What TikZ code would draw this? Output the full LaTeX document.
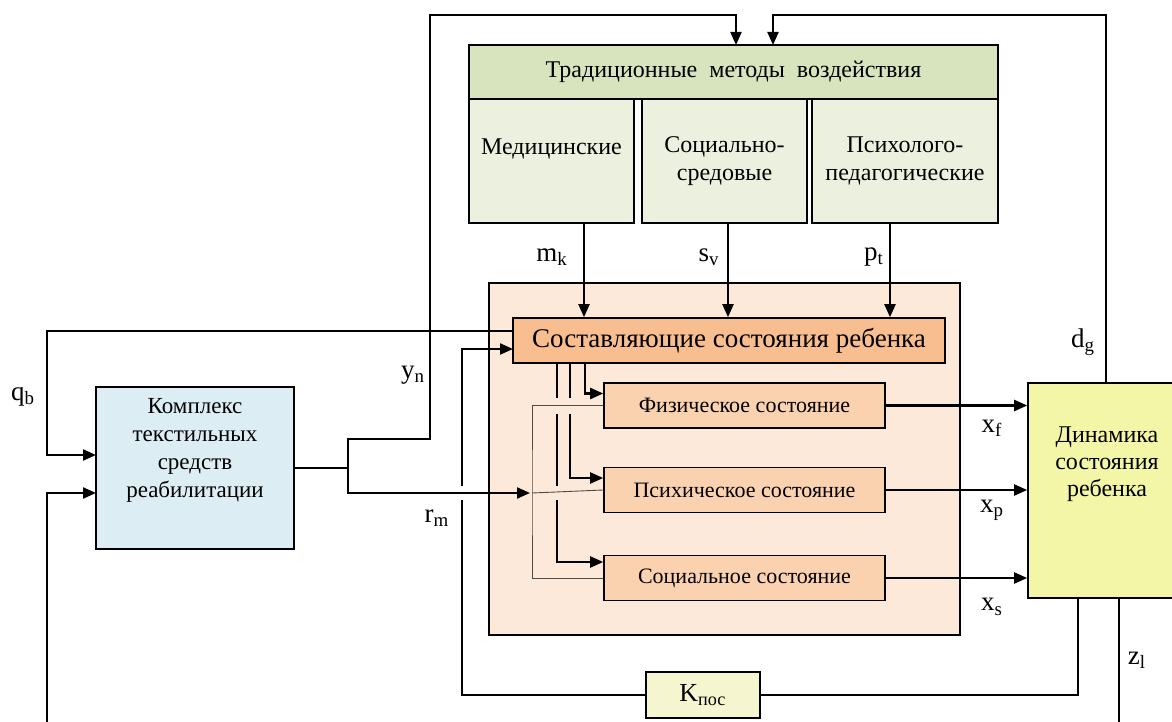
\documentclass[tikz,border=0pt]{standalone}
\usepackage{fontspec}
\setmainfont{Liberation Serif}
\usetikzlibrary{arrows.meta, calc}

\definecolor{hdrgreen}{RGB}{215,228,189}
\definecolor{subgreen}{RGB}{235,241,222}
\definecolor{peach}{RGB}{253,233,217}
\definecolor{compor}{RGB}{248,190,143}
\definecolor{subor}{RGB}{251,210,175}
\definecolor{textblue}{RGB}{220,238,243}
\definecolor{dynyel}{RGB}{242,246,166}
\definecolor{kyel}{RGB}{245,245,208}

\tikzset{
    box/.style={draw, line width=0.8pt, inner sep=1pt, align=center},
    hdr/.style={box, fill=hdrgreen, minimum width=264.5pt, minimum height=27pt,
        font=\fontsize{12}{14}\selectfont},
    method/.style={box, fill=subgreen, minimum height=62pt,
        font=\fontsize{12}{14}\selectfont},
    statebg/.style={box, fill=peach, minimum width=235.5pt, minimum height=176pt},
    part/.style={box, fill=subor, minimum width=140.5pt, minimum height=22.5pt,
        font=\fontsize{11}{13}\selectfont},
    sig/.style={font=\fontsize{13.5}{15}\selectfont, inner sep=0pt},
    line/.style={line width=0.7pt},
    thinline/.style={line width=0.45pt, black!70},
    arr/.style={line width=1.1pt, -{Triangle[length=6.5pt,width=5.5pt]}}
}

\begin{document}
\begin{tikzpicture}[x=0.5pt, y=-0.5pt]
\useasboundingbox (0,0) rectangle (1172,722);

% blocks
\node[hdr] (header) at (733.5,72) {Традиционные \ методы \ воздействия};
\node[method, minimum width=82.5pt] (med) at (551.5,161) {Медицинские\\~};
\node[method, minimum width=82.5pt] (soc) at (724.5,161) {Социально-\\средовые};
\node[method, minimum width=93pt] (psy) at (905,161) {Психолого-\\педагогические};

\node[statebg] (state) at (724.5,459) {};
\node[box, fill=compor, minimum width=216pt, minimum height=22.5pt,
    font=\fontsize{13.5}{15}\selectfont] (comp) at (729,340.5) {Составляющие состояния ребенка};
\node[part] (phys) at (744.5,405.5) {Физическое состояние};
\node[part] (psych) at (744.5,490) {Психическое состояние};
\node[part] (social) at (744.5,578) {Социальное состояние};

\node[box, fill=textblue, minimum width=99pt, minimum height=81pt,
    label={[align=center, yshift=9pt, font=\fontsize{11.5}{14}\selectfont]center:Комплекс\\текстильных\\средств\\реабилитации}]
    (kompleks) at (195,468) {};
\node[box, fill=dynyel, minimum width=79pt, minimum height=107.5pt,
    label={[align=center, yshift=13pt, font=\fontsize{12}{13.5}\selectfont]center:Динамика\\состояния\\ребенка}]
    (dyn) at (1107,490.5) {};
\node[box, fill=kyel, minimum width=57pt, minimum height=23pt,
    font=\fontsize{13}{15}\selectfont] (kpos) at (703,695) {K\textsubscript{пос}};

% points
\coordinate (br) at (348,468);
\coordinate (yn) at (430,439);
\coordinate (top) at (0,15);
\coordinate (bot) at (0,722);
\coordinate (in1) at (736,45);
\coordinate (in2) at (773,45);
\coordinate (dg) at (1106,383);
\coordinate (qs) at (513,331);
\coordinate (lq) at (47,455);
\coordinate (qin) at (96,455);
\coordinate (ubot) at (47,722);
\coordinate (uin) at (96,493);
\coordinate (rin) at (530,493);
\coordinate (vx) at (532,493);
\coordinate (cin) at (513,349);
\coordinate (fb) at (1078,598);
\coordinate (zl) at (1119,598);
\coordinate (kx) at (462,0);
\coordinate (c1) at (557,0);
\coordinate (c2) at (570,0);
\coordinate (c3) at (585,0);
\coordinate (mk) at (584,223);
\coordinate (sv) at (728,223);
\coordinate (pt) at (890,223);

% connections
\draw[line] (kompleks.east) -- (br);
\draw[arr] (br) |- (yn) -- (yn |- top) -| (in1);
\draw[arr] (dg) |- (top -| in2) -- (in2);
\draw[arr] (br) |- (rin);
\draw[arr] (qs) -| (lq) -- (qin);
\draw[arr] (ubot) |- (uin);

\foreach \c in {mk,sv,pt}
    \draw[arr] (\c) -- (\c |- comp.north);

\draw[thinline] (phys.west) -| (vx) |- (social.west);
\draw[thinline] (vx) -- (psych.west);

\draw[arr] (c3 |- comp.south) |- ($(phys.west)+(0,-12)$);
\draw[line] (c2 |- comp.south) -- ($(c2 |- phys.west)+(0,-8)$);
\draw[arr] ($(c2 |- phys.west)+(0,8)$) |- ($(psych.west)+(0,-12)$);
\draw[line] (c1 |- comp.south) -- ($(c1 |- phys.west)+(0,-8)$);
\draw[line] ($(c1 |- phys.west)+(0,8)$) -- ($(c1 |- vx)+(0,-7)$);
\draw[arr] ($(c1 |- vx)+(0,7)$) |- ($(social.west)+(0,-16)$);

\foreach \s in {phys,psych,social}
    \draw[arr] (\s.east) -- (\s.east -| dyn.west);

\draw[line] (fb) |- (kpos.east);
\draw[line] (kpos.west) -| ($(kx |- vx)+(0,7)$);
\draw[arr] ($(kx |- vx)+(0,-7)$) |- (cin);
\draw[line] (zl) -- (zl |- bot);

% signals
\node[sig] (lqb) at (23,397) {q\textsubscript{b}};
\node[sig] (lyn) at (413,375) {y\textsubscript{n}};
\node[sig] (lrm) at (437,518) {r\textsubscript{m}};
\node[sig] (lmk) at (552,257) {m\textsubscript{k}};
\node[sig] (lsv) at (709,257) {s\textsubscript{v}};
\node[sig] (lpt) at (874,257) {p\textsubscript{t}};
\node[sig] (ldg) at (1083,342) {d\textsubscript{g}};
\node[sig] (lxf) at (992,428) {x\textsubscript{f}};
\node[sig] (lxp) at (992,510) {x\textsubscript{p}};
\node[sig] (lxs) at (992,607) {x\textsubscript{s}};
\node[sig] (lzl) at (1137,660) {z\textsubscript{l}};

\end{tikzpicture}
\end{document}
